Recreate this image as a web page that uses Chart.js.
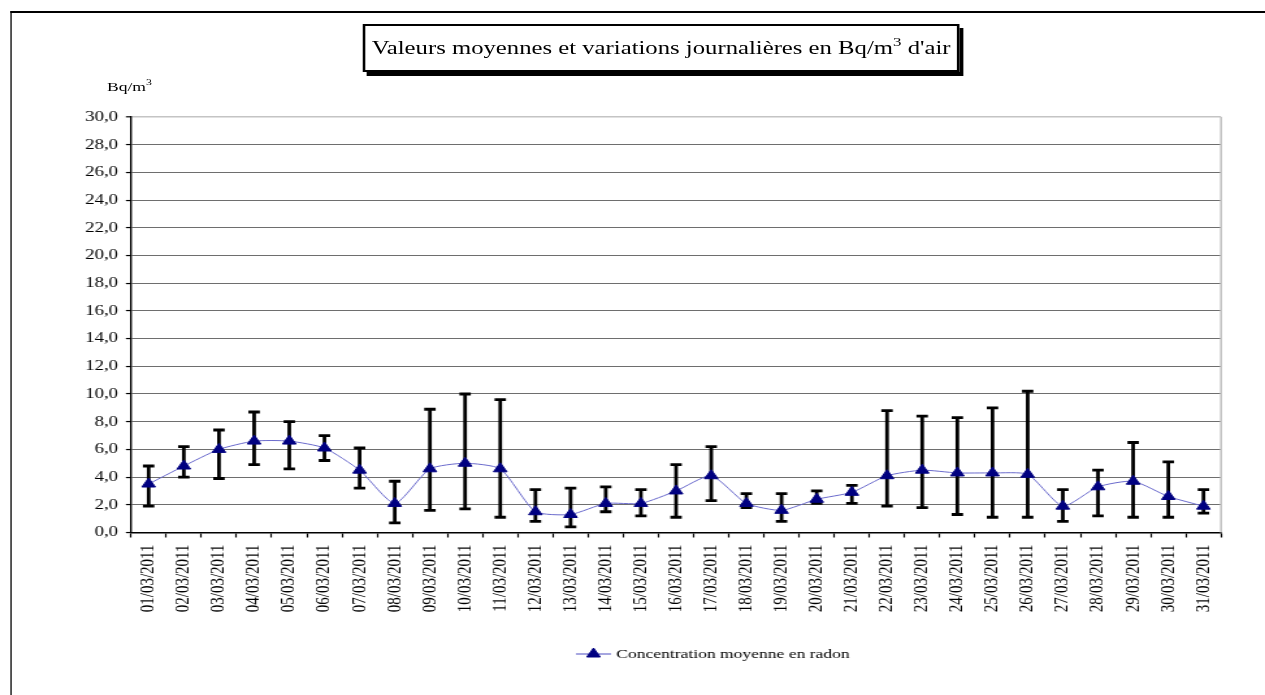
<!DOCTYPE html>
<html>
<head>
<meta charset="utf-8">
<script src="https://cdn.jsdelivr.net/npm/chart.js@4.4.1/dist/chart.umd.min.js"></script>
<style>
  html, body { margin: 0; padding: 0; background: #fff; width: 1265px; height: 695px; overflow: hidden; }
  /* the whole figure is laid out at 973px and widened to the full 1265px */
  #stage { position: absolute; left: 0; top: 0; width: 973px; height: 695px;
           transform: scaleX(1.3001); transform-origin: 0 0;
           font-family: "Liberation Serif", "Times New Roman", serif; color: #000; }
  #frame { position: absolute; left: 7.7px; top: 11px; width: 1200px; height: 900px;
           border-left: 1.6px solid #000; border-top: 2px solid #000; }
  #title { position: absolute; left: 279px; top: 24px; width: 455px; height: 44px;
           border: 2.6px solid #000; box-shadow: 3px 4px 0 #000; background: #fff;
           font-size: 19px; line-height: 44px; text-align: center; white-space: nowrap; }
  #title sup { font-size: 13px; position: relative; top: -8px; vertical-align: baseline; }
  #unit { position: absolute; left: 82.3px; top: 80px; font-size: 13.5px; line-height: 13.5px; white-space: nowrap; }
  #unit sup { font-size: 9px; position: relative; top: -6px; vertical-align: baseline; }
  canvas { position: absolute; left: 0; top: 0; }
</style>
</head>
<body>
<div id="stage">
  <div id="frame"></div>
  <div id="title">Valeurs moyennes et variations journalières en Bq/m<sup>3</sup> d'air</div>
  <div id="unit">Bq/m<sup>3</sup></div>
  <canvas id="chart" width="973" height="695" style="width:973px;height:695px"></canvas>
</div>
<script>
// Daily radon readings, March 2011 (Bq/m3)
const days = [
  "01/03/2011", "02/03/2011", "03/03/2011", "04/03/2011", "05/03/2011", "06/03/2011",
  "07/03/2011", "08/03/2011", "09/03/2011", "10/03/2011", "11/03/2011", "12/03/2011",
  "13/03/2011", "14/03/2011", "15/03/2011", "16/03/2011", "17/03/2011", "18/03/2011",
  "19/03/2011", "20/03/2011", "21/03/2011", "22/03/2011", "23/03/2011", "24/03/2011",
  "25/03/2011", "26/03/2011", "27/03/2011", "28/03/2011", "29/03/2011", "30/03/2011",
  "31/03/2011"
];
// daily mean concentration
const meanValues = [3.5, 4.8, 6.0, 6.6, 6.6, 6.1, 4.5, 2.1, 4.6, 5.0, 4.6, 1.5, 1.3, 2.1, 2.1, 3.0,
                    4.1, 2.1, 1.6, 2.4, 2.9, 4.1, 4.5, 4.3, 4.3, 4.2, 1.9, 3.3, 3.7, 2.6, 1.9];
// daily minimum (lower end of the variation bar)
const minValues  = [1.9, 4.0, 3.9, 4.9, 4.6, 5.2, 3.2, 0.7, 1.6, 1.7, 1.1, 0.8, 0.4, 1.5, 1.2, 1.1,
                    2.3, 1.8, 0.8, 2.1, 2.1, 1.9, 1.8, 1.3, 1.1, 1.1, 0.8, 1.2, 1.1, 1.1, 1.4];
// daily maximum (upper end of the variation bar)
const maxValues  = [4.8, 6.2, 7.4, 8.7, 8.0, 7.0, 6.1, 3.7, 8.9, 10.0, 9.6, 3.1, 3.2, 3.3, 3.1, 4.9,
                    6.2, 2.8, 2.8, 3.0, 3.4, 8.8, 8.4, 8.3, 9.0, 10.2, 3.1, 4.5, 6.5, 5.1, 3.1];
const yTicks = [0, 2, 4, 6, 8, 10, 12, 14, 16, 18, 20, 22, 24, 26, 28, 30];
const seriesLabel = "Concentration moyenne en radon";

const LINE_COLOR = "#6a6acc";
const MARK_COLOR = "#000080";
const SERIF = "'Liberation Serif', 'Times New Roman', serif";

// min/max whiskers, drawn behind the series
const variationBars = {
  id: "variationBars",
  beforeDatasetsDraw(chart) {
    const { ctx, scales: { x, y } } = chart;
    const cap = 4.4;
    ctx.save();
    ctx.strokeStyle = "#000";
    ctx.lineWidth = 2.8;
    ctx.lineCap = "butt";
    minValues.forEach((lo, i) => {
      const px = x.getPixelForValue(i);
      const yLo = y.getPixelForValue(lo);
      const yHi = y.getPixelForValue(maxValues[i]);
      ctx.beginPath();
      ctx.moveTo(px, yLo); ctx.lineTo(px, yHi);
      ctx.moveTo(px - cap, yLo); ctx.lineTo(px + cap, yLo);
      ctx.moveTo(px - cap, yHi); ctx.lineTo(px + cap, yHi);
      ctx.stroke();
    });
    ctx.restore();
  }
};

// light right edge of the plot area + legend entry (line with marker) below the chart
const frameAndLegend = {
  id: "frameAndLegend",
  afterDraw(chart) {
    const { ctx, chartArea } = chart;
    ctx.save();
    ctx.strokeStyle = "#c4c4c4";
    ctx.lineWidth = 1.6;
    ctx.beginPath();
    ctx.moveTo(chartArea.right, chartArea.top);
    ctx.lineTo(chartArea.right, chartArea.bottom);
    ctx.stroke();

    const ds = chart.data.datasets[0];
    const ly = 654, x0 = 443, x1 = 470;
    ctx.strokeStyle = ds.borderColor;
    ctx.lineWidth = 1.2;
    ctx.beginPath();
    ctx.moveTo(x0, ly); ctx.lineTo(x1, ly);
    ctx.stroke();
    ctx.fillStyle = ds.pointBackgroundColor;
    ctx.strokeStyle = ds.pointBorderColor;
    ctx.lineWidth = 1;
    ctx.beginPath();
    const r = ds.pointRadius, cx = (x0 + x1) / 2;
    ctx.moveTo(cx, ly - r);
    ctx.lineTo(cx + r * 0.866, ly + r / 2);
    ctx.lineTo(cx - r * 0.866, ly + r / 2);
    ctx.closePath();
    ctx.fill();
    ctx.stroke();
    ctx.fillStyle = "#000";
    ctx.font = "13.5px " + SERIF;
    ctx.textBaseline = "middle";
    ctx.textAlign = "left";
    ctx.fillText(ds.label, 474, ly + 0.5);
    ctx.restore();
  }
};

new Chart(document.getElementById("chart"), {
  type: "line",
  data: {
    labels: days,
    datasets: [{
      label: seriesLabel,
      data: meanValues,
      borderColor: LINE_COLOR,
      borderWidth: 1,
      tension: 0.2,
      pointStyle: "triangle",
      pointRadius: 6,
      pointBackgroundColor: MARK_COLOR,
      pointBorderColor: MARK_COLOR,
      pointBorderWidth: 1,
      fill: false
    }]
  },
  options: {
    responsive: false,
    animation: false,
    devicePixelRatio: 1,
    layout: { padding: { left: 0, top: 117, right: 33.8, bottom: 0 } },
    plugins: { legend: { display: false }, title: { display: false }, tooltip: { enabled: false } },
    scales: {
      x: {
        offset: true,
        afterFit(s) { s.height = 162.5; },
        border: { color: "#000", width: 1.5 },
        grid: { offset: true, drawOnChartArea: false, drawTicks: true, tickLength: 5, tickColor: "#000", tickWidth: 1.2 },
        ticks: {
          autoSkip: false, minRotation: 90, maxRotation: 90, padding: 7,
          color: "#000", font: { family: SERIF, size: 15 }
        }
      },
      y: {
        min: 0, max: 30,
        afterFit(s) { s.width = 100.8; },
        afterBuildTicks(s) { s.ticks = yTicks.map(v => ({ value: v })); },
        border: { color: "#000", width: 1.4 },
        grid: {
          color: c => (c.tick && c.tick.value === 30 ? "#c4c4c4" : "#6e6e6e"),
          lineWidth: c => (c.tick && c.tick.value === 30 ? 1.6 : 1.1),
          tickLength: 4, tickColor: "#000", tickWidth: 1.2
        },
        ticks: {
          padding: 6, color: "#000", font: { family: SERIF, size: 14.5 },
          callback: v => Number(v).toFixed(1).replace(".", ",")
        }
      }
    }
  },
  plugins: [variationBars, frameAndLegend]
});
</script>
</body>
</html>
